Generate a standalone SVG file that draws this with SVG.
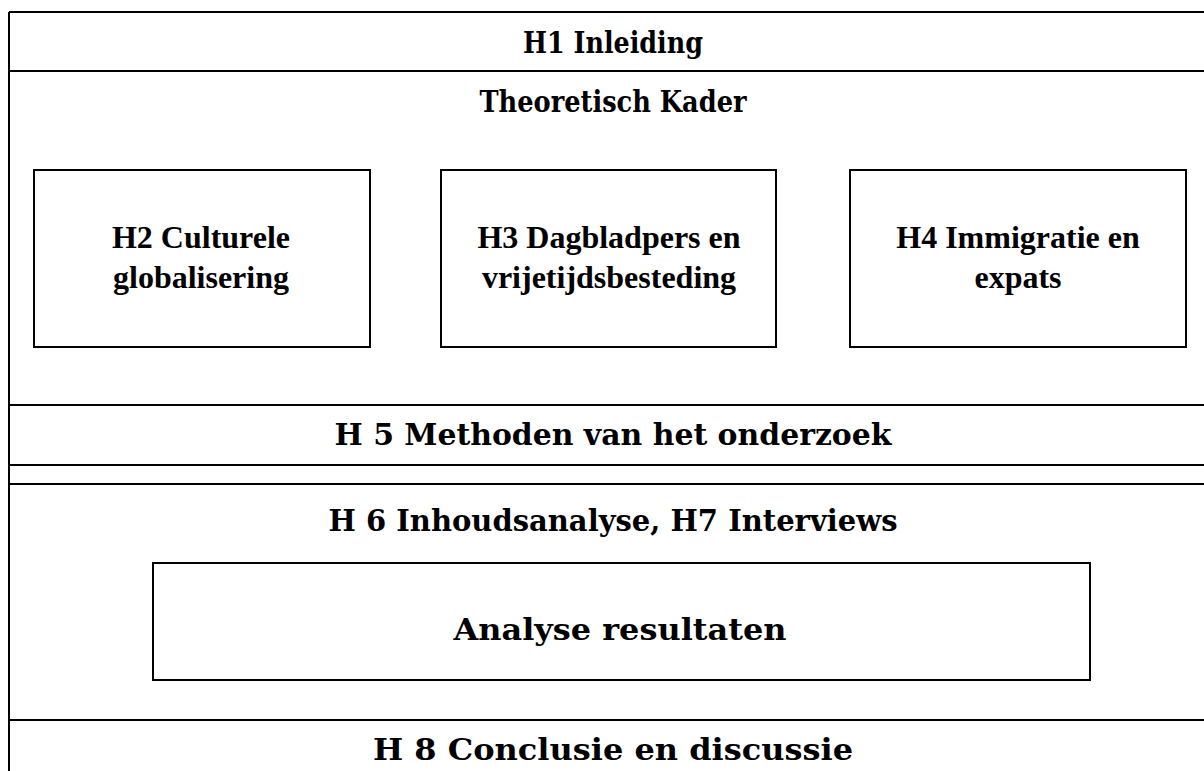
<svg xmlns="http://www.w3.org/2000/svg" width="1204" height="771" viewBox="0 0 1204 771">
<style>
.ln{stroke:#000;stroke-width:2;fill:none}
.box{stroke:#000;stroke-width:2;fill:#fff}
.hd{font-family:"DejaVu Serif","Liberation Serif",serif;font-weight:bold;font-size:30px;fill:#000;text-anchor:middle}
.bx{font-family:"Liberation Serif","Times New Roman",serif;font-weight:bold;font-size:32px;fill:#000;text-anchor:middle}
</style>
<rect width="1204" height="771" fill="#fff"/>
<g id="frame">
<line class="ln" x1="9" y1="12" x2="1204" y2="12"/>
<line class="ln" x1="9" y1="12" x2="9" y2="771"/>
<line class="ln" x1="9" y1="71" x2="1204" y2="71"/>
<line class="ln" x1="9" y1="405" x2="1204" y2="405"/>
<line class="ln" x1="9" y1="465" x2="1204" y2="465"/>
<line class="ln" x1="9" y1="484" x2="1204" y2="484"/>
<line class="ln" x1="9" y1="720" x2="1204" y2="720"/>
</g>
<g id="h1"><text class="hd" x="613" y="53" textLength="180" lengthAdjust="spacingAndGlyphs">H1 Inleiding</text></g>
<g id="theorie"><text class="hd" x="613" y="112" textLength="267" lengthAdjust="spacingAndGlyphs">Theoretisch Kader</text></g>
<g id="h2">
<rect class="box" x="34" y="170" width="336" height="177"/>
<text class="bx" x="201" y="248">H2 Culturele</text>
<text class="bx" x="201" y="288">globalisering</text>
</g>
<g id="h3">
<rect class="box" x="441" y="170" width="335" height="177"/>
<text class="bx" x="609" y="248">H3 Dagbladpers en</text>
<text class="bx" x="609" y="288">vrijetijdsbesteding</text>
</g>
<g id="h4">
<rect class="box" x="850" y="170" width="336" height="177"/>
<text class="bx" x="1018" y="248">H4 Immigratie en</text>
<text class="bx" x="1018" y="288">expats</text>
</g>
<g id="h5"><text class="hd" x="613" y="445" textLength="557" lengthAdjust="spacingAndGlyphs">H 5 Methoden van het onderzoek</text></g>
<g id="h6"><text class="hd" x="613" y="531" textLength="569" lengthAdjust="spacingAndGlyphs">H 6 Inhoudsanalyse, H7 Interviews</text></g>
<g id="analyse">
<rect class="box" x="153" y="563" width="937" height="117"/>
<text class="hd" x="620" y="640" textLength="333" lengthAdjust="spacingAndGlyphs">Analyse resultaten</text>
</g>
<g id="h8"><text class="hd" x="613" y="760" textLength="480" lengthAdjust="spacingAndGlyphs">H 8 Conclusie en discussie</text></g>
<g id="connectors"></g>
</svg>
